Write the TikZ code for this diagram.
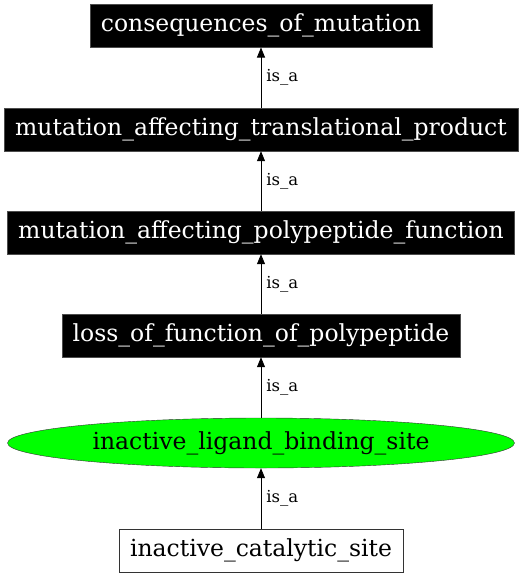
\documentclass[tikz,border=0pt]{standalone}
\usepackage{fontspec}
\setmainfont{DejaVu Serif}
\usetikzlibrary{arrows.meta,shapes.geometric}
\tikzset{
  blackbox/.style={rectangle,fill=black,draw=black!70,text=white,inner sep=0pt,minimum height=43pt,font=\fontsize{23.5}{28}\selectfont},
  whitebox/.style={rectangle,fill=white,draw=black!80,text=black,inner sep=0pt,minimum height=43pt,font=\fontsize{23.5}{28}\selectfont},
  greenell/.style={ellipse,fill=green,draw=black!80,text=black,inner sep=0pt,minimum height=50pt,font=\fontsize{23.5}{28}\selectfont},
  isa/.style={-{Triangle[length=10pt,width=8pt]},black,line width=0.8pt},
  lbl/.style={font=\fontsize{16.5}{20}\selectfont,anchor=west,inner sep=0pt}
}
\begin{document}
\begin{tikzpicture}[x=1pt,y=-1pt]
\useasboundingbox (0,0) rectangle (527,576);
\node[blackbox,minimum width=342pt] (com) at (261,25.8) {consequences\_of\_mutation};
\node[blackbox,minimum width=514pt] (matp) at (261,129.5) {mutation\_affecting\_translational\_product};
\node[blackbox,minimum width=507pt] (mapf) at (261,232.5) {mutation\_affecting\_polypeptide\_function};
\node[blackbox,minimum width=398pt] (lofp) at (261,335.5) {loss\_of\_function\_of\_polypeptide};
\node[greenell,minimum width=507pt] (ilbs) at (261,443) {inactive\_ligand\_binding\_site};
\node[whitebox,minimum width=284pt] (ics) at (261,550.5) {inactive\_catalytic\_site};
\draw[isa] (matp) -- node[lbl,xshift=5pt] {is\_a} (com);
\draw[isa] (mapf) -- node[lbl,xshift=5pt] {is\_a} (matp);
\draw[isa] (lofp) -- node[lbl,xshift=5pt] {is\_a} (mapf);
\draw[isa] (ilbs) -- node[lbl,xshift=5pt] {is\_a} (lofp);
\draw[isa] (ics) -- node[lbl,xshift=5pt] {is\_a} (ilbs);
\end{tikzpicture}
\end{document}
